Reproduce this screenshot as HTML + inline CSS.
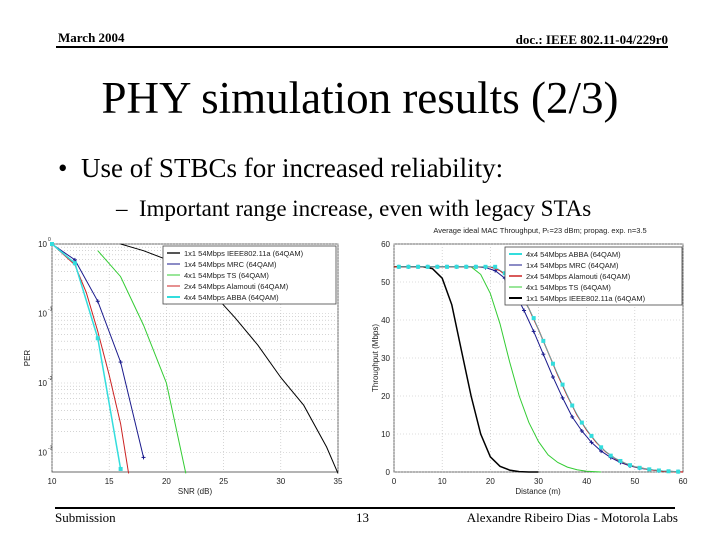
<!DOCTYPE html>
<html><head><meta charset="utf-8"><style>
body{margin:0;background:#fff;}
#slide{position:relative;width:720px;height:540px;overflow:hidden;background:#fff;font-family:"Liberation Serif",serif;}
.t{position:absolute;white-space:nowrap;color:#000;}
svg text{font-family:"Liberation Sans",sans-serif;}
</style></head><body>
<div id="slide">
<div class="t" style="left:58px;top:30px;font-size:13px;font-weight:bold;">March 2004</div>
<div class="t" style="right:52px;top:32px;font-size:13px;font-weight:bold;">doc.: IEEE 802.11-04/229r0</div>
<div style="position:absolute;left:56px;top:46px;width:612px;height:2px;background:#000;"></div>
<div class="t" style="left:0;width:720px;text-align:center;top:72px;font-size:45px;">PHY simulation results (2/3)</div>
<div class="t" style="left:58px;top:153px;font-size:27px;">•&nbsp; Use of STBCs for increased reliability:</div>
<div class="t" style="left:116px;top:196px;font-size:23px;">– &nbsp;Important range increase, even with legacy STAs</div>
<div style="position:absolute;left:55px;top:507px;width:620px;height:2px;background:#000;"></div>
<div class="t" style="left:55px;top:510px;font-size:13px;">Submission</div>
<div class="t" style="left:356px;top:510px;font-size:13px;">13</div>
<div class="t" style="right:42px;top:510px;font-size:13px;">Alexandre Ribeiro Dias - Motorola Labs</div>
<svg id="left" style="position:absolute;left:0;top:0" width="720" height="540"></svg>
</div>
<script>
// ---- Left chart data (PER vs SNR) ----
const perXTicks=[10,15,20,25,30,35];
const perYTicks=[0,-1,-2,-3];
const snrBlack=[16,18,20,22,24,26,28,30,32,34,35];
const perBlack=[1.0,0.8,0.6,0.4,0.2,0.087,0.035,0.012,0.0048,0.0012,0.0005];
const snrMrc=[10,12,14,16,18];
const perMrc=[1,0.59,0.15,0.02,0.00085];
const snrTs=[14,16,18,20,21.7];
const perTs=[0.8,0.34,0.068,0.01,0.0005];
const snrAla=[10,12,13,14,15,16,16.7];
const perAla=[1,0.5,0.2,0.055,0.013,0.0026,0.0005];
const snrAbba=[10,12,14,16];
const perAbba=[1,0.53,0.044,0.00058];
// ---- Right chart data (throughput vs distance) ----
const thXTicks=[0,10,20,30,40,50,60];
const thYTicks=[0,10,20,30,40,50,60];
const dBlack=[0,2,4,6,8,10,12,14,16,18,20,22,24,26,28,30];
const tBlack=[54,54,54,54,53.5,51,44,32,20,10,4,1.5,0.5,0.1,0,0];
const dTs=[0,4,8,12,16,18,20,22,24,26,28,30,32,34,36,38,40,43];
const tTs=[54,54,54,54,54,52,47,39,29,20,13,8,4.5,2.5,1.3,0.6,0.2,0];
const dMrc=[1,3,5,7,9,11,13,15,17,19,21,23,25,27,29,31,33,35,37,39,41,43,45,47,49,51,55,59];
const tMrc=[54,54,54,54,54,54,54,54,54,53.8,53,51,47.5,42.5,37,31,25,19.5,14.5,10.8,7.8,5.5,3.8,2.5,1.6,1.0,0.3,0.1];
const dAla=[0,4,8,12,16,20,22,24,26,28,30,32,34,36,38,40,42,44,46,48,50,52,54,56,58,60];
const tAla=[54,54,54,54,54,54,53,51,47.5,43,37.5,31.5,25.5,20,15,11,7.8,5.3,3.5,2.3,1.4,0.9,0.5,0.25,0.1,0];
const dAbba=[1,3,5,7,9,11,13,15,17,19,21,23,25,27,29,31,33,35,37,39,41,43,45,47,49,51,53,55,57,59];
const tAbba=[54,54,54,54,54,54,54,54,54,54,54,52.3,49.5,45.5,40.5,34.5,28.5,23,17.5,13,9.5,6.5,4.3,2.9,1.8,1.1,0.7,0.4,0.2,0.1];

const svg=document.getElementById('left');
const NS='http://www.w3.org/2000/svg';
function mk(tag,attrs,parent){const e=document.createElementNS(NS,tag);for(const k in attrs)e.setAttribute(k,attrs[k]);(parent||svg).appendChild(e);return e;}
function txt(x,y,s,size,anchor,parent){const e=mk('text',{x:x,y:y,'font-size':size,'text-anchor':anchor||'middle',fill:'#222'},parent);e.textContent=s;return e;}

const L={x0:52,x1:338,y0:244,y1:472};
function lx(v){return L.x0+(v-10)/25*(L.x1-L.x0);}
function ly(p){return L.y0-Math.log10(p)*69.5;}
const lg=mk('g',{});


mk('rect',{x:L.x0,y:L.y0,width:L.x1-L.x0,height:L.y1-L.y0,fill:'#fff',stroke:'#444','stroke-width':0.8},lg);
perXTicks.forEach(v=>{const x=lx(v);mk('line',{x1:x,x2:x,y1:L.y0,y2:L.y1,stroke:'#bbb','stroke-dasharray':'1,2','stroke-width':0.6},lg);
 const t=txt(x,484,String(v),8,'middle',lg);});
perYTicks.forEach(d=>{for(let m=1;m<10;m++){const p=m*Math.pow(10,d-1);const y=ly(p*10);if(y>L.y1||y<L.y0)continue;
 mk('line',{x1:L.x0,x2:L.x1,y1:y,y2:y,stroke:'#bbb','stroke-dasharray':'1,2','stroke-width':0.6},lg);}
 const y=ly(Math.pow(10,d));const t=txt(47,y+3,'10',8,'end',lg);
 txt(48,y-3,String(d),5,'start',lg);});
const lxt=txt(195,494,'SNR (dB)',8,'middle',lg);
const lyt=txt(30,358,'PER',8,'middle',lg);lyt.setAttribute('transform','rotate(-90 30 358)');

function series(xs,ys,fx,fy,color,w,name,marker){
 const g=mk('g',{});
 
 
 const pts=xs.map((v,i)=>fx(v).toFixed(1)+','+fy(ys[i]).toFixed(1)).join(' ');
 mk('polyline',{points:pts,fill:'none',stroke:color,'stroke-width':w},g);
 if(marker)xs.forEach((v,i)=>{const x=fx(v),y=fy(ys[i]);
  if(marker==='sq')mk('rect',{x:x-2,y:y-2,width:4,height:4,fill:color},g);
  else{mk('line',{x1:x-2,x2:x+2,y1:y,y2:y,stroke:color,'stroke-width':1},g);mk('line',{x1:x,x2:x,y1:y-2,y2:y+2,stroke:color,'stroke-width':1},g);}});
}
series(snrBlack,perBlack,lx,ly,'#000',1,'series-ieee80211a');
series(snrTs,perTs,lx,ly,'#33cc33',1,'series-ts');
series(snrMrc,perMrc,lx,ly,'#1a1a8c',1,'series-mrc','plus');
series(snrAla,perAla,lx,ly,'#cc2222',1,'series-alamouti');
series(snrAbba,perAbba,lx,ly,'#33dddd',1.5,'series-abba','sq');

function legend(x,y,w,entries,name){
 const g=mk('g',{});
 
 
 mk('rect',{x:x,y:y,width:w,height:58,fill:'#fff',stroke:'#444','stroke-width':0.8},g);
 entries.forEach((e,i)=>{const yy=y+7+i*11;mk('line',{x1:x+4,x2:x+17,y1:yy,y2:yy,stroke:e[1],'stroke-width':e[2]},g);
  const t=txt(x+21,yy+3,e[0],7.5,'start',g);});
}
legend(163,246,173,[['1x1 54Mbps IEEE802.11a (64QAM)','#555',2],['1x4 54Mbps MRC (64QAM)','#1a1a8c',1],['4x1 54Mbps TS (64QAM)','#33cc33',1],['2x4 54Mbps Alamouti (64QAM)','#cc2222',1],['4x4 54Mbps ABBA (64QAM)','#33dddd',2]],'per-legend');

const R={x0:394,x1:683,y0:244,y1:472};
function rx(v){return R.x0+v/60*(R.x1-R.x0);}
function ry(v){return R.y1-v/60*(R.y1-R.y0);}
const rg=mk('g',{});


mk('rect',{x:R.x0,y:R.y0,width:R.x1-R.x0,height:R.y1-R.y0,fill:'#fff',stroke:'#444','stroke-width':0.8},rg);
thXTicks.forEach(v=>{const x=rx(v);mk('line',{x1:x,x2:x,y1:R.y0,y2:R.y1,stroke:'#bbb','stroke-dasharray':'1,2','stroke-width':0.6},rg);
 const t=txt(x,484,String(v),8,'middle',rg);});
thYTicks.forEach(v=>{const y=ry(v);mk('line',{x1:R.x0,x2:R.x1,y1:y,y2:y,stroke:'#bbb','stroke-dasharray':'1,2','stroke-width':0.6},rg);
 const t=txt(390,y+3,String(v),8,'end',rg);});
const rxt=txt(538,494,'Distance (m)',8,'middle',rg);
const ryt=txt(378,358,'Throughput (Mbps)',8,'middle',rg);ryt.setAttribute('transform','rotate(-90 378 358)');
const rtt=txt(540,233,'Average ideal MAC Throughput, P\u209C=23 dBm; propag. exp. n=3.5',7.5,'middle',rg);

series(dBlack,tBlack,rx,ry,'#000',1.5,'series-ieee80211a-thr');
series(dTs,tTs,rx,ry,'#33cc33',1,'series-ts-thr');
series(dMrc,tMrc,rx,ry,'#1a1a8c',1,'series-mrc-thr','plus');
series(dAla,tAla,rx,ry,'#cc2222',1.2,'series-alamouti-thr');
series(dAbba,tAbba,rx,ry,'#33dddd',0.6,'series-abba-thr','sq');
legend(505,247,177,[['4x4 54Mbps ABBA (64QAM)','#33dddd',2],['1x4 54Mbps MRC (64QAM)','#1a1a8c',1],['2x4 54Mbps Alamouti (64QAM)','#cc2222',1.5],['4x1 54Mbps TS (64QAM)','#33cc33',1],['1x1 54Mbps IEEE802.11a (64QAM)','#000',2]],'throughput-legend');
</script>
</body></html>
